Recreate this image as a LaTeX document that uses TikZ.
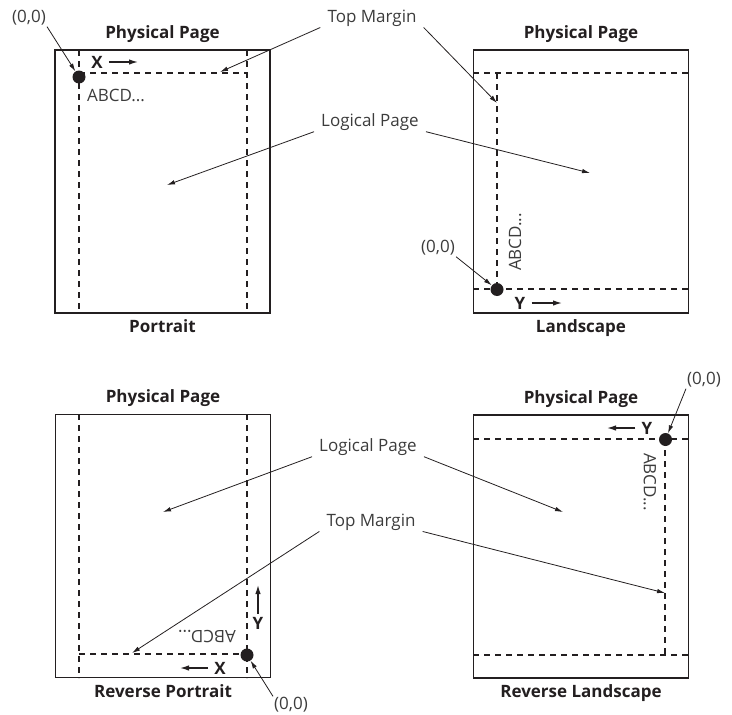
\documentclass[tikz,border=0pt]{standalone}
\usepackage{fontspec}
\setmainfont{Open Sans}
\usepackage{tikz}
\usetikzlibrary{positioning, arrows.meta}
\usepackage{xcolor}
\definecolor{ink}{HTML}{231F20}
\definecolor{txt}{HTML}{3C3C3C}
\newcommand{\lblfont}{\fontsize{17}{20}\selectfont}

\begin{document}
\begin{tikzpicture}[
  x=1pt, y=-1pt,
  page/.style={draw=ink, line width=1.4pt, minimum width=215pt,
               minimum height=263pt, inner sep=0pt},
  title/.style={font=\lblfont\bfseries, text=ink, inner sep=1pt},
  lbl/.style={font=\lblfont, text=txt, inner xsep=7pt, inner ysep=1pt},
  axis/.style={font=\lblfont\bfseries, text=ink, inner sep=1pt},
  origin/.style={circle, fill=ink, minimum size=13pt, inner sep=0pt},
  margin/.style={dash pattern=on 6pt off 5pt, line width=1.3pt, draw=ink},
  ptr/.style={-{Latex[length=8pt, width=4.5pt]}, line width=0.8pt, draw=ink},
  dir/.style={-{Latex[length=9pt, width=5.5pt]}, line width=1.3pt, draw=ink,
              shorten <=5pt}
]
\useasboundingbox (0,0) rectangle (732,715);

% the four physical pages
\node[page] (p1) at (162.5,181.5) {};
\node[page] (p2) at (581,181.5) {};
\node[page] (p3) at (163,546) {};
\node[page] (p4) at (581,546.5) {};

\node[title, above=6pt of p1] (h1) {Physical Page};
\node[title, above=6pt of p2] (h2) {Physical Page};
\node[title, above=6pt of p3] (h3) {Physical Page};
\node[title, above=6pt of p4] (h4) {Physical Page};

\node[title, below=5pt of p1] (c1) {Portrait};
\node[title, below=5pt of p2] (c2) {Landscape};
\node[title, below=5pt of p3] (c3) {Reverse Portrait};
\node[title, below=5pt of p4] (c4) {Reverse Landscape};

% logical page margins
\draw[margin] (79,50) -- (79,313);
\draw[margin] (247,50) -- (247,313);
\draw[margin] (79,73) -- (247,73);

\draw[margin] (473,73) -- (689,73);
\draw[margin] (473,289) -- (689,289);
\draw[margin] (497,73) -- (497,289);

\draw[margin] (79,414) -- (79,678);
\draw[margin] (247,414) -- (247,678);
\draw[margin] (79,654) -- (247,654);

\draw[margin] (473,439) -- (689,439);
\draw[margin] (473,655) -- (689,655);
\draw[margin] (665,439) -- (665,655);

% origins
\node[origin] (d1) at (79,77) {};
\node[origin] (d2) at (497,289.5) {};
\node[origin] (d3) at (247,655) {};
\node[origin] (d4) at (665.5,439.5) {};

\node[lbl, inner xsep=1pt] (o1) at (29,18) {(0,0)};
\node[lbl, inner xsep=1pt] (o2) at (438,248) {(0,0)};
\node[lbl, inner xsep=1pt] (o3) at (291,705) {(0,0)};
\node[lbl, inner xsep=1pt] (o4) at (704,380) {(0,0)};

\draw[ptr] (o1.south east) -- (d1);
\draw[ptr] (o2.south east) -- (d2);
\draw[ptr] (o3.north west) -- (d3);
\draw[ptr] (o4.south west) -- (d4);

% axes
\node[axis] (x1) at (97,62) {X};
\node[axis] (y2) at (520,303) {Y};
\node[axis] (x3) at (220,668) {X};
\node[axis] (y3) at (258,623) {Y};
\node[axis] (y4) at (647,428) {Y};

\coordinate (x1e) at (138,62);
\coordinate (y2e) at (562,303);
\coordinate (x3e) at (180,668);
\coordinate (y3e) at (258,585);
\coordinate (y4e) at (607,428);

\draw[dir] (x1) -- (x1e);
\draw[dir] (y2) -- (y2e);
\draw[dir] (x3) -- (x3e);
\draw[dir, shorten <=2pt] (y3) -- (y3e);
\draw[dir] (y4) -- (y4e);

% sample text
\node[lbl, inner sep=0pt] (a1) at (116,95) {ABCD...};
\node[lbl, inner sep=0pt, rotate=90] (a2) at (515,242) {ABCD...};
\node[lbl, inner sep=0pt, rotate=180] (a3) at (207,637) {ABCD...};
\node[lbl, inner sep=0pt, rotate=-90] (a4) at (650,482) {ABCD...};

% callouts
\node[lbl] (tm1) at (372,18) {Top Margin};
\node[lbl] (lp1) at (370,122) {Logical Page};
\node[lbl] (lp2) at (368,447) {Logical Page};
\node[lbl] (tm2) at (371,522) {Top Margin};

\coordinate (t1) at (220,72);
\coordinate (t2) at (497,103);
\coordinate (l1) at (167,185);
\coordinate (l2) at (590,173);
\coordinate (l3) at (163,512);
\coordinate (l4) at (563,512);
\coordinate (t3) at (132,653);
\coordinate (t4) at (665,593);

\draw[ptr] (tm1.south west) -- (t1);
\draw[ptr] (tm1.south east) -- (t2);
\draw[ptr] (lp1.south west) -- (l1);
\draw[ptr] (lp1.south east) -- (l2);
\draw[ptr] (lp2.south west) -- (l3);
\draw[ptr] (lp2.south east) -- (l4);
\draw[ptr] (tm2.south west) -- (t3);
\draw[ptr] (tm2.south east) -- (t4);
\end{tikzpicture}
\end{document}
